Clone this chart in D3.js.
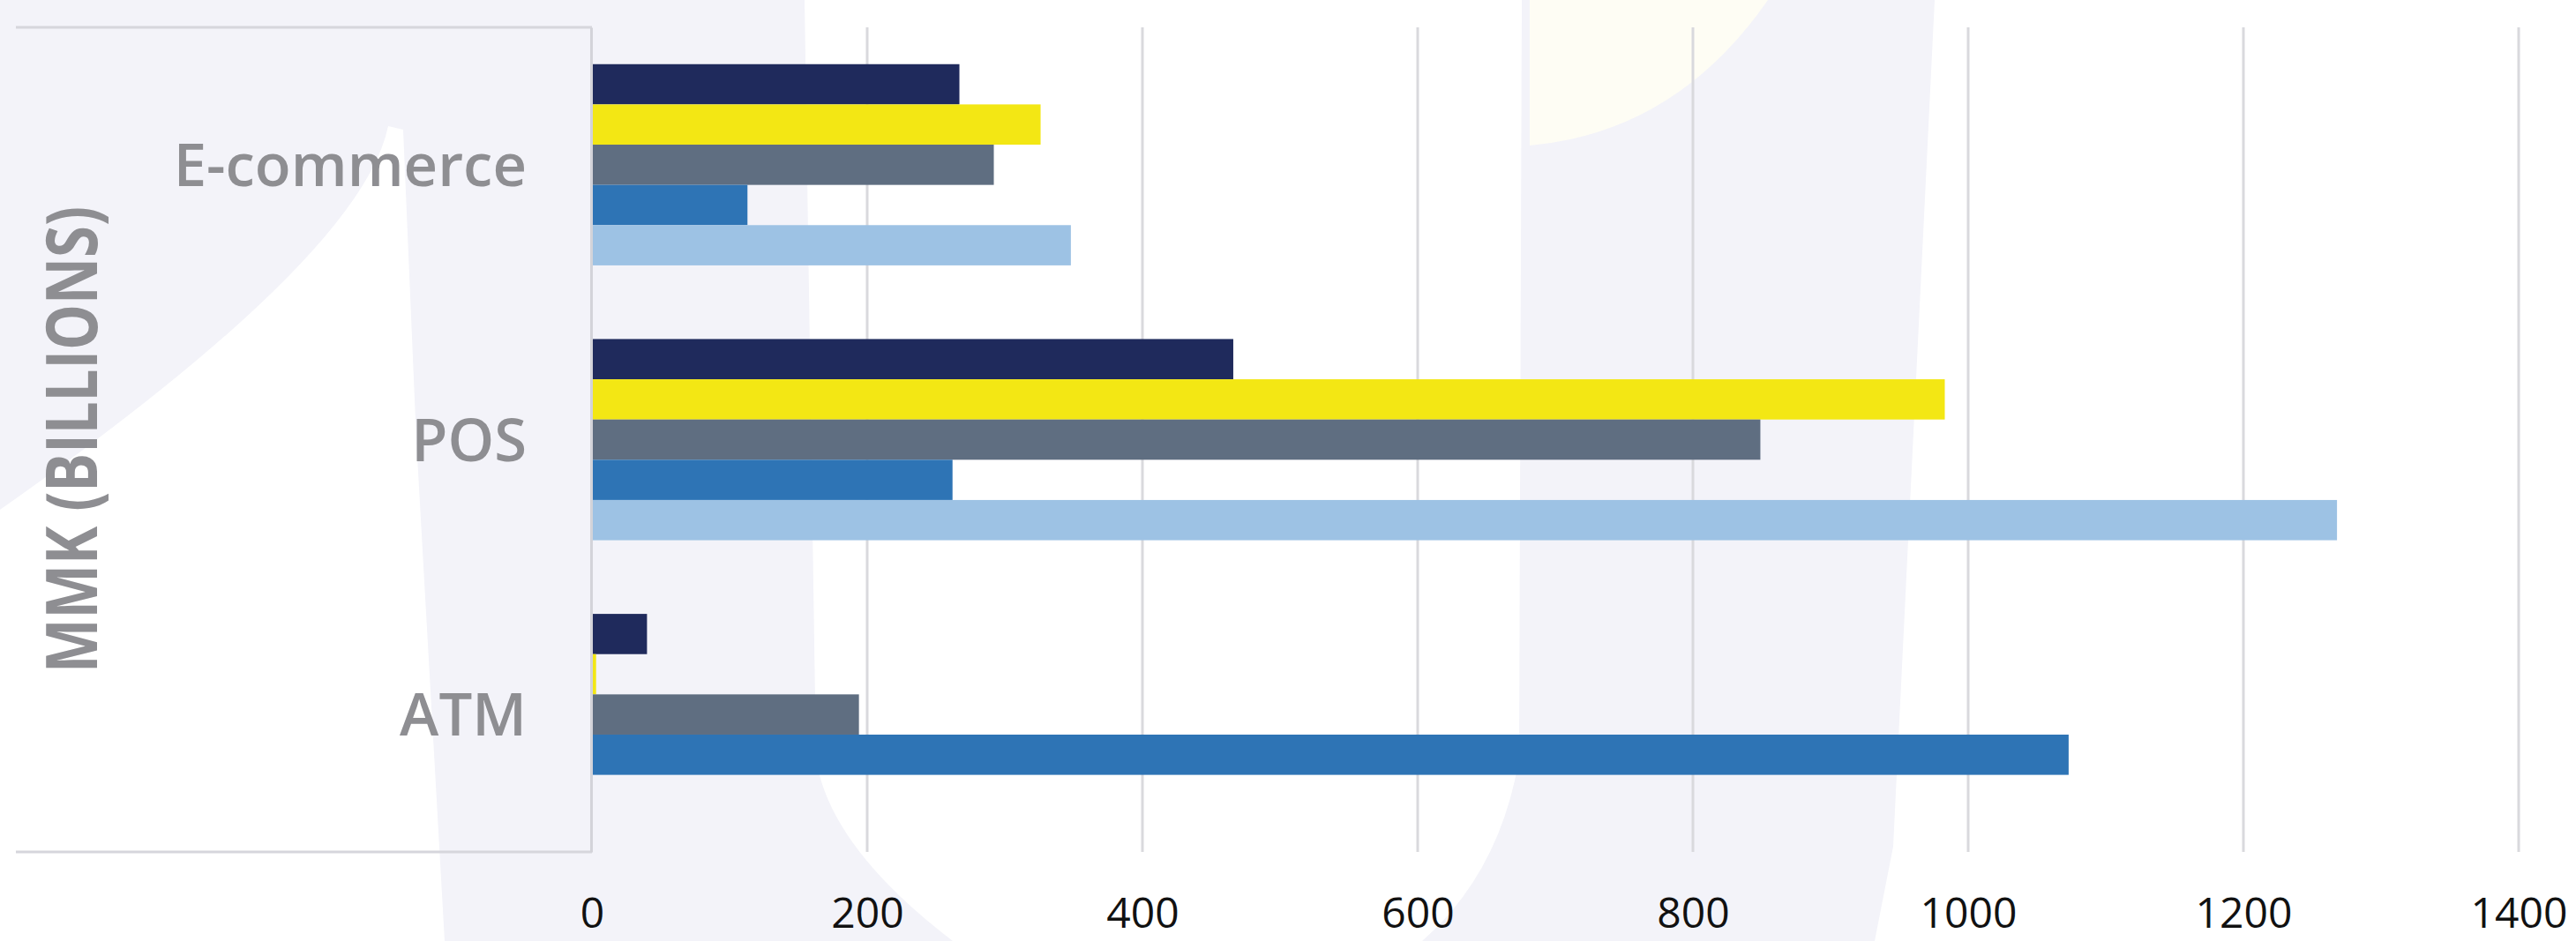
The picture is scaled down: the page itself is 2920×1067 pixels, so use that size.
<!DOCTYPE html>
<html>
<head>
<meta charset="utf-8">
<script src="https://cdn.jsdelivr.net/npm/d3@7"></script>
<style>
  body { margin: 0; background: #ffffff; }
  svg { display: block; }
</style>
</head>
<body>
<svg id="chart"></svg>
<script>
/* data */
var categories = ["E-commerce", "POS", "ATM"];
var seriesNames = ["s1", "s2", "s3", "s4", "s5"];
var seriesColors = ["#1f2a5c", "#f3e714", "#5f6e81", "#2e74b5", "#9dc2e4"];
var s1 = [267, 466, 40];
var s2 = [326, 983, 3];
var s3 = [292, 849, 194];
var s4 = [113, 262, 1073];
var s5 = [348, 1268, 0];
var xTicks = [0, 200, 400, 600, 800, 1000, 1200, 1400];
var yTitle = "MMK (BILLIONS)";

var seriesValues = [s1, s2, s3, s4, s5];

/* settings */
var width = 2920,
    height = 1067,
    plotLeft = 671,
    plotRight = 2855,
    plotTop = 31,
    plotBottom = 966,
    lavender = "#f3f3f9";

var svg = d3.select("#chart")
    .attr("width", width)
    .attr("height", height);

/* background watermark */
var bg = svg.append("g").attr("class", "background");
bg.append("rect")
    .attr("width", width).attr("height", height)
    .attr("fill", lavender);
// left white sweep
bg.append("path")
    .attr("d", "M440,143 L457,147 L472,500 L504,1067 L0,1067 L0,578 Q410,290 440,143 Z")
    .attr("fill", "#ffffff");
// middle white band
bg.append("path")
    .attr("d", "M912,0 L1725,0 L1722,860 Q1700,990 1612,1067 L1080,1067 Q940,960 925,860 Z")
    .attr("fill", "#ffffff");
// right white region
bg.append("path")
    .attr("d", "M2193,0 L2920,0 L2920,1067 L2125,1067 L2146,960 Z")
    .attr("fill", "#ffffff");
// faint cream circle
bg.append("path")
    .attr("d", "M1734,0 L2004,0 Q1900,150 1734,165 Z")
    .attr("fill", "#fefdf4");

/* scales */
var xScale = d3.scaleLinear()
    .domain([0, 1400])
    .range([plotLeft, plotRight]);

var yScale = d3.scaleBand()
    .domain(categories)
    .range([plotTop, plotBottom])
    .paddingInner(0.268)
    .paddingOuter(0.134);

var ySub = d3.scaleBand()
    .domain(seriesNames)
    .range([0, yScale.bandwidth()]);

/* panel frame lines */
svg.append("line")
    .attr("x1", 18).attr("x2", plotLeft)
    .attr("y1", plotTop).attr("y2", plotTop)
    .attr("stroke", "#d6d6dc").attr("stroke-width", 3);
svg.append("line")
    .attr("x1", 18).attr("x2", plotLeft)
    .attr("y1", plotBottom).attr("y2", plotBottom)
    .attr("stroke", "#d6d6dc").attr("stroke-width", 3);

/* gridlines */
svg.append("g")
    .attr("class", "grid")
    .selectAll("line")
    .data(xTicks.filter(function(d) { return d > 0; }))
    .enter().append("line")
    .attr("x1", function(d) { return xScale(d); })
    .attr("x2", function(d) { return xScale(d); })
    .attr("y1", plotTop)
    .attr("y2", plotBottom)
    .attr("stroke", "#d9d9dd")
    .attr("stroke-width", 3);

/* x axis */
var xAxis = d3.axisBottom(xScale)
    .tickValues(xTicks)
    .tickSize(0)
    .tickPadding(52)
    .tickFormat(d3.format("d"));

var xAxisG = svg.append("g")
    .attr("class", "x-axis")
    .attr("transform", "translate(0," + plotBottom + ")")
    .call(xAxis);
xAxisG.select(".domain").remove();
xAxisG.selectAll("text")
    .attr("font-family", "'Open Sans', 'Noto Sans', sans-serif")
    .attr("font-size", 48)
    .attr("fill", "#111111");

/* bars */
var groups = svg.append("g")
    .attr("class", "bars")
    .selectAll("g")
    .data(categories)
    .enter().append("g")
    .attr("transform", function(d) { return "translate(0," + yScale(d) + ")"; });

groups.selectAll("rect")
    .data(function(c, ci) {
        return seriesNames.map(function(s, si) {
            return { series: s, color: seriesColors[si], value: seriesValues[si][ci] };
        });
    })
    .enter().append("rect")
    .attr("x", xScale(0))
    .attr("y", function(d) { return ySub(d.series); })
    .attr("height", ySub.bandwidth())
    .attr("width", function(d) { return xScale(d.value) - xScale(0); })
    .attr("fill", function(d) { return d.color; });

/* y axis */
var yAxis = d3.axisLeft(yScale)
    .tickSize(0)
    .tickPadding(73);

var yAxisG = svg.append("g")
    .attr("class", "y-axis")
    .attr("transform", "translate(" + (plotLeft - 1) + ",0)")
    .call(yAxis);
yAxisG.select(".domain")
    .attr("stroke", "#d3d3d9")
    .attr("stroke-width", 3);
yAxisG.selectAll("text")
    .attr("dy", "0.36em")
    .attr("font-family", "'Open Sans', 'Noto Sans', sans-serif")
    .attr("font-weight", 600)
    .attr("font-size", 67)
    .attr("fill", "#8e8e92");

/* y axis title */
svg.append("text")
    .attr("class", "y-title")
    .attr("transform", "translate(110," + ((plotTop + plotBottom) / 2) + ") rotate(-90)")
    .attr("text-anchor", "middle")
    .attr("font-family", "'Liberation Sans Narrow', 'Open Sans', sans-serif")
    .attr("font-weight", 700)
    .attr("font-size", 80)
    .attr("textLength", 529)
    .attr("lengthAdjust", "spacingAndGlyphs")
    .attr("fill", "#8e8e92")
    .text(yTitle);
</script>
</body>
</html>
